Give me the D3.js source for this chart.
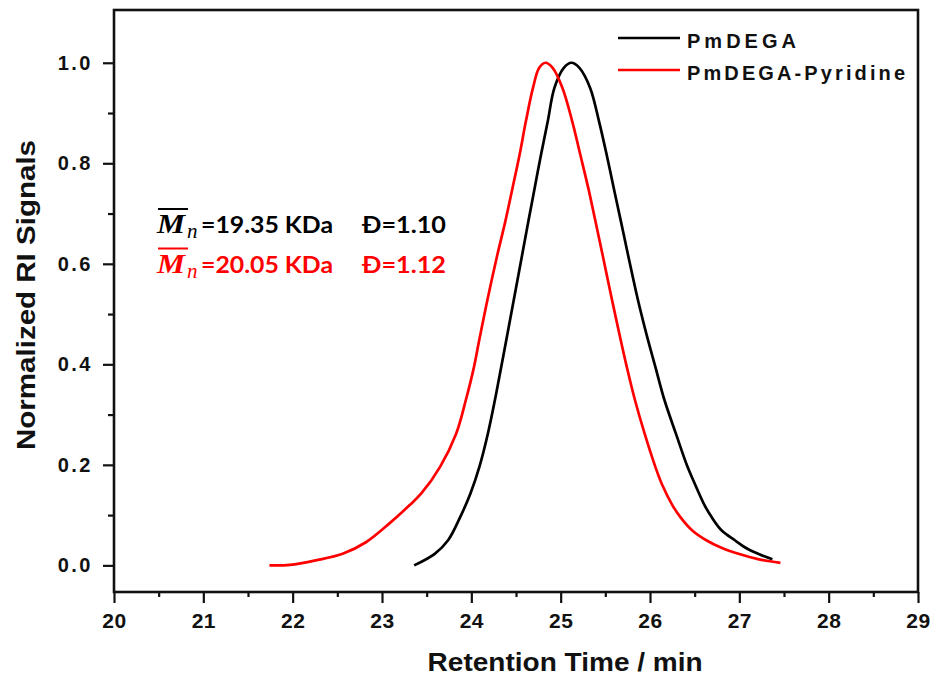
<!DOCTYPE html>
<html>
<head>
<meta charset="utf-8">
<script src="https://cdn.jsdelivr.net/npm/d3@7"></script>
<style>
  html, body { margin: 0; padding: 0; background: #fff; }
  svg { display: block; }
  .axis text { font-family: "Liberation Sans", Arial, sans-serif; font-weight: bold; fill: #111; }
</style>
</head>
<body>
<svg id="chart" width="939" height="675"></svg>
<script>
// GPC traces (retention time in min, normalized RI signal)
const pmdegaTime = [23.36, 23.59, 23.74, 23.875, 23.99, 24.09, 24.185, 24.265, 24.335, 24.393, 24.475, 24.568, 24.638,
  24.708, 24.78, 24.855, 24.93, 25.035, 25.12, 25.21, 25.33, 25.43, 25.515, 25.595, 25.675, 25.755, 25.865, 25.975,
  26.06, 26.16, 26.29, 26.42, 26.50, 26.61, 26.69, 26.80, 26.95, 27.07, 27.21, 27.37];
const pmdegaSignal = [0.000, 0.023, 0.050, 0.096, 0.143, 0.196, 0.262, 0.330, 0.395, 0.450, 0.528, 0.617, 0.684,
  0.750, 0.817, 0.883, 0.950, 0.990, 1.000, 0.990, 0.950, 0.883, 0.817, 0.750, 0.684, 0.617, 0.528, 0.450,
  0.395, 0.330, 0.262, 0.196, 0.163, 0.120, 0.096, 0.070, 0.050, 0.035, 0.023, 0.012];

const pyridineTime = [21.74, 21.97, 22.26, 22.56, 22.82, 23.08, 23.31, 23.44, 23.65, 23.83, 23.94, 24.03, 24.09, 24.18,
  24.29, 24.38, 24.46, 24.54, 24.61, 24.69, 24.76, 24.83, 24.91, 25.02, 25.13, 25.22, 25.31, 25.39, 25.47, 25.575,
  25.67, 25.74, 25.83, 25.94, 26.06, 26.13, 26.25, 26.34, 26.47, 26.63, 26.80, 26.99, 27.22, 27.46];
const pyridineSignal = [0.000, 0.001, 0.010, 0.023, 0.046, 0.083, 0.120, 0.143, 0.196, 0.262, 0.330, 0.395, 0.450, 0.528,
  0.617, 0.684, 0.750, 0.817, 0.883, 0.950, 0.990, 1.000, 0.990, 0.950, 0.883, 0.817, 0.750, 0.684, 0.617, 0.528,
  0.450, 0.395, 0.330, 0.262, 0.196, 0.163, 0.120, 0.096, 0.070, 0.050, 0.035, 0.023, 0.012, 0.005];

const seriesNames = ["PmDEGA", "PmDEGA-Pyridine"];
const seriesColors = ["#000000", "#ff0000"];
const xMajorTicks = [20, 21, 22, 23, 24, 25, 26, 27, 28, 29];
const xMinorTicks = [20.5, 21.5, 22.5, 23.5, 24.5, 25.5, 26.5, 27.5, 28.5];
const yMajorTicks = [0.0, 0.2, 0.4, 0.6, 0.8, 1.0];
const yMinorTicks = [0.1, 0.3, 0.5, 0.7, 0.9];
const mnValues = ["19.35", "20.05"];
const dispersity = ["1.10", "1.12"];

const svg = d3.select("#chart");
const margin = { left: 114, top: 10, right: 21, bottom: 83 };
const W = 939, H = 675;
const innerW = W - margin.left - margin.right;
const innerH = H - margin.top - margin.bottom;

const x = d3.scaleLinear().domain([20, 29]).range([margin.left, margin.left + innerW]);
const y = d3.scaleLinear().domain([-0.053, 1.105]).range([margin.top + innerH, margin.top]);

svg.append("rect").attr("width", W).attr("height", H).attr("fill", "#fff");

// x axis: major + minor ticks
const gx = svg.append("g").attr("class", "axis")
  .attr("transform", `translate(0,${margin.top + innerH})`)
  .call(d3.axisBottom(x).tickValues(xMajorTicks).tickSize(11).tickPadding(10).tickFormat(d3.format("d")));
gx.select(".domain").remove();
gx.selectAll("line").attr("stroke", "#111").attr("stroke-width", 2.2);
gx.selectAll("text").attr("font-size", 21).attr("letter-spacing", "0.5px");

const gxm = svg.append("g")
  .attr("transform", `translate(0,${margin.top + innerH})`)
  .call(d3.axisBottom(x).tickValues(xMinorTicks).tickSize(5).tickFormat(""));
gxm.select(".domain").remove();
gxm.selectAll("line").attr("stroke", "#111").attr("stroke-width", 2.2);

// y axis: major + minor ticks
const gy = svg.append("g").attr("class", "axis")
  .attr("transform", `translate(${margin.left},0)`)
  .call(d3.axisLeft(y).tickValues(yMajorTicks).tickSize(11).tickPadding(10).tickFormat(d3.format(".1f")));
gy.select(".domain").remove();
gy.selectAll("line").attr("stroke", "#111").attr("stroke-width", 2.2);
gy.selectAll("text").attr("font-size", 20).attr("letter-spacing", "2.5px");

const gym = svg.append("g")
  .attr("transform", `translate(${margin.left},0)`)
  .call(d3.axisLeft(y).tickValues(yMinorTicks).tickSize(6).tickFormat(""));
gym.select(".domain").remove();
gym.selectAll("line").attr("stroke", "#111").attr("stroke-width", 2.2);

// plot frame
svg.append("rect")
  .attr("x", margin.left).attr("y", margin.top)
  .attr("width", innerW).attr("height", innerH)
  .attr("fill", "none").attr("stroke", "#111").attr("stroke-width", 2.6);

// axis titles
svg.append("text")
  .attr("x", x(25.05)).attr("y", 671)
  .attr("text-anchor", "middle")
  .attr("font-family", "Liberation Sans, Arial, sans-serif").attr("font-weight", "bold")
  .attr("font-size", 25).attr("fill", "#111")
  .attr("textLength", 275).attr("lengthAdjust", "spacingAndGlyphs")
  .text("Retention Time / min");

svg.append("text")
  .attr("transform", `translate(35,${295}) rotate(-90)`)
  .attr("text-anchor", "middle")
  .attr("font-family", "Liberation Sans, Arial, sans-serif").attr("font-weight", "bold")
  .attr("font-size", 25).attr("fill", "#111")
  .attr("textLength", 310).attr("lengthAdjust", "spacingAndGlyphs")
  .text("Normalized RI Signals");

// traces
const line = d3.line()
  .x(d => x(d[0]))
  .y(d => y(d[1]))
  .curve(d3.curveCatmullRom.alpha(0.5));

const traces = [
  d3.zip(pmdegaTime, pmdegaSignal),
  d3.zip(pyridineTime, pyridineSignal)
];

svg.append("g").selectAll("path")
  .data(traces)
  .join("path")
  .attr("d", line)
  .attr("fill", "none")
  .attr("stroke", (d, i) => seriesColors[i])
  .attr("stroke-width", 2.7)
  .attr("stroke-linejoin", "round");

// legend
const legend = svg.append("g");
seriesNames.forEach((name, i) => {
  const ly = 38 + i * 32;
  legend.append("line")
    .attr("x1", 618).attr("x2", 680).attr("y1", ly).attr("y2", ly)
    .attr("stroke", seriesColors[i]).attr("stroke-width", 2.6);
  legend.append("text")
    .attr("x", 687).attr("y", ly + 10)
    .attr("font-family", "Liberation Sans, Arial, sans-serif").attr("font-weight", "bold")
    .attr("font-size", 20).attr("fill", "#111")
    .attr("textLength", i === 0 ? 109 : 218).attr("lengthAdjust", "spacing")
    .text(name);
});

// molecular weight / dispersity annotations
const notes = svg.append("g");
mnValues.forEach((mn, i) => {
  const base = 233 + i * 39.5;
  const col = seriesColors[i];
  notes.append("text")
    .attr("x", 157).attr("y", base)
    .attr("font-family", "Liberation Serif, serif").attr("font-style", "italic").attr("font-weight", "bold")
    .attr("font-size", 27).attr("fill", col)
    .attr("textLength", 28).attr("lengthAdjust", "spacingAndGlyphs")
    .text("M");
  notes.append("line")
    .attr("x1", 158).attr("x2", 188).attr("y1", base - 24).attr("y2", base - 24)
    .attr("stroke", col).attr("stroke-width", 2);
  notes.append("text")
    .attr("x", 187).attr("y", base + 5)
    .attr("font-family", "Liberation Serif, serif").attr("font-style", "italic")
    .attr("font-size", 21).attr("fill", col)
    .text("n");
  notes.append("text")
    .attr("x", 201).attr("y", base)
    .attr("font-family", "Lato, 'Open Sans', sans-serif").attr("font-weight", "bold")
    .attr("font-size", 22).attr("fill", col)
    .attr("textLength", 132).attr("lengthAdjust", "spacingAndGlyphs")
    .text(`=${mn} KDa`);
  notes.append("text")
    .attr("x", 362).attr("y", base)
    .attr("font-family", "Lato, 'Open Sans', sans-serif").attr("font-weight", "bold")
    .attr("font-size", 22).attr("fill", col)
    .attr("textLength", 84).attr("lengthAdjust", "spacingAndGlyphs")
    .text(`Đ=${dispersity[i]}`);
});
</script>
</body>
</html>
